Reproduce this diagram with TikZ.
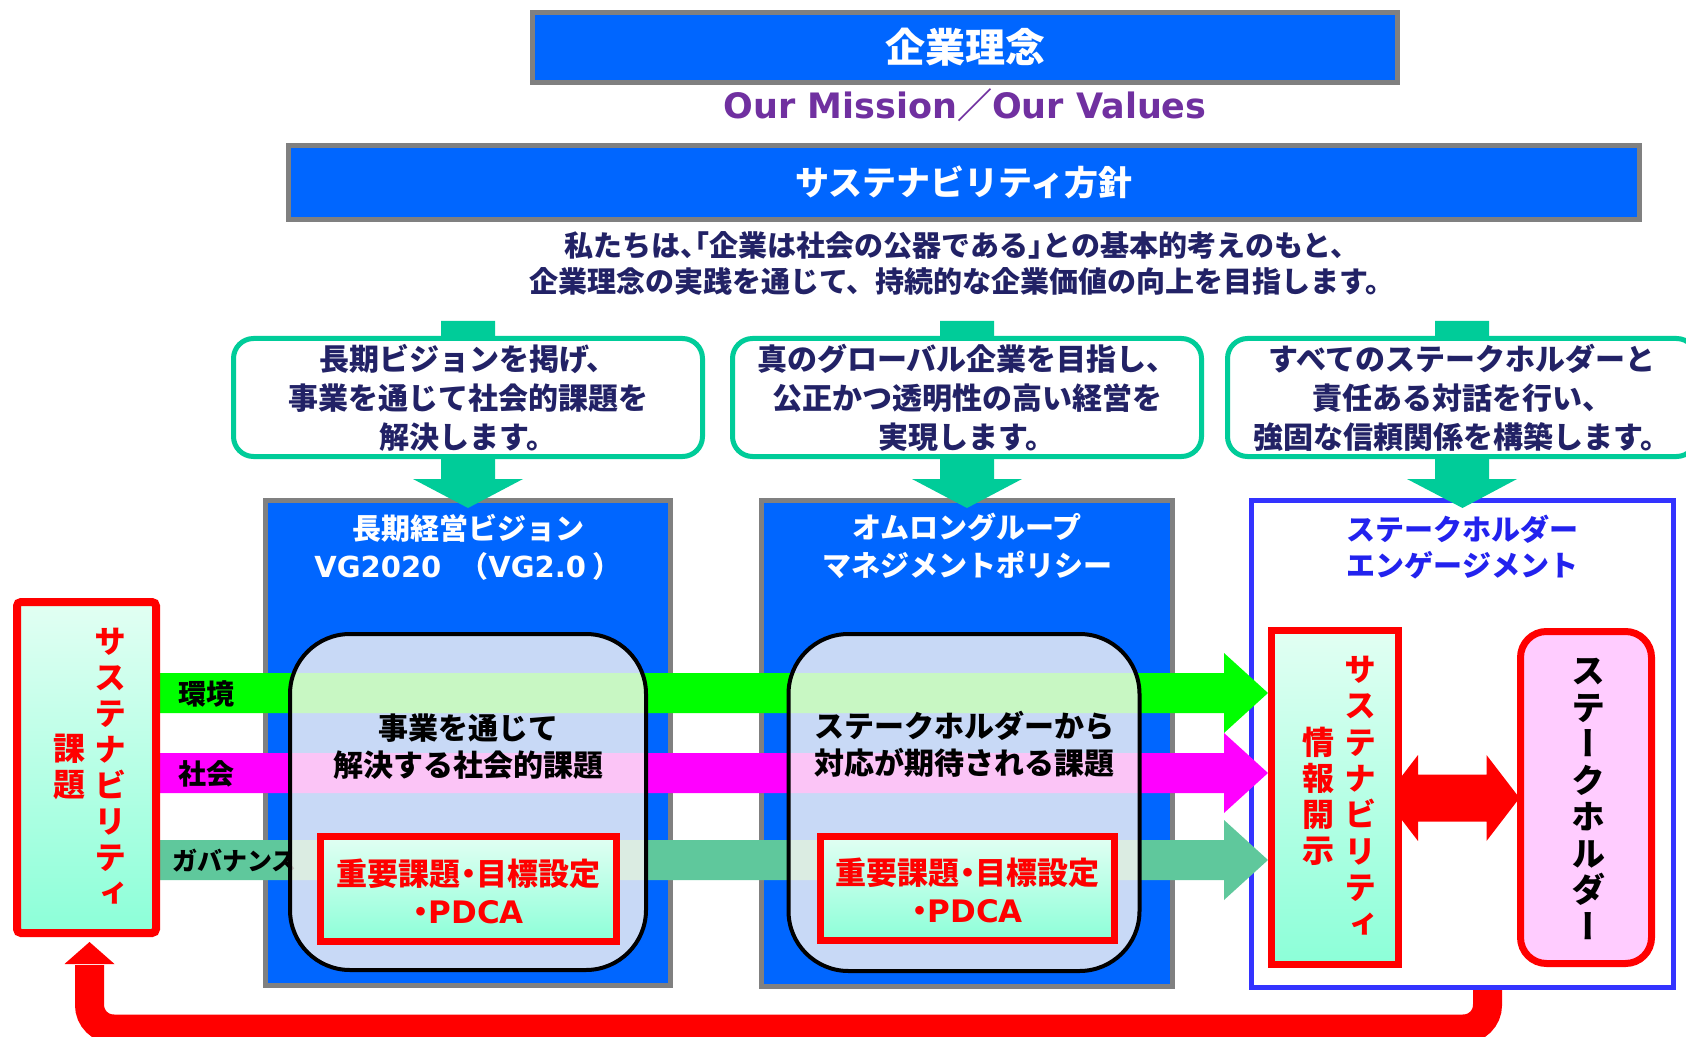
\documentclass[tikz,border=0pt]{standalone}
\usepackage{fontspec}
\usepackage{graphicx}
\setmainfont{Noto Sans CJK JP}
\newfontfamily\lat{DejaVu Sans}
\usetikzlibrary{calc}
\pgfdeclarelayer{bg}
\pgfdeclarelayer{mid}
\pgfsetlayers{bg,mid,main}

\definecolor{barblue}{HTML}{0066FF}
\definecolor{bargrey}{HTML}{808080}
\definecolor{tealg}{HTML}{00CC99}
\definecolor{navy}{HTML}{222266}
\definecolor{purp}{HTML}{7030A0}
\definecolor{bgreen}{HTML}{00FF00}
\definecolor{bmag}{HTML}{FF00FF}
\definecolor{bgov}{HTML}{5FC89C}
\definecolor{engblue}{HTML}{3333FF}
\definecolor{engtext}{HTML}{2222EE}
\definecolor{mintA}{HTML}{E2FFF3}
\definecolor{mintB}{HTML}{8CFFD8}
\definecolor{pinkf}{HTML}{FFCCFF}
\definecolor{paneF}{HTML}{FAF6F4}

\newcommand{\fsz}[2]{\fontsize{#1pt}{#2pt}\selectfont}
\newcommand{\hp}[1]{{\addfontfeature{RawFeature=+halt}#1}}
\newcommand{\vt}{\addfontfeature{RawFeature=+vert}}

\tikzset{
  topbar/.style={draw=bargrey, line width=2.5pt, fill=barblue, inner sep=0pt},
  panelbox/.style={draw=bargrey, line width=2.5pt, fill=barblue, inner sep=0pt},
  msgbox/.style={draw=tealg, line width=2.5pt, fill=white, rounded corners=10pt, inner sep=0pt},
  glassbox/.style={draw=black, line width=2pt, fill=paneF, fill opacity=0.8, rounded corners=30pt, inner sep=0pt},
  mintbox/.style={draw=red, line width=3.5pt, top color=mintA, bottom color=mintB, inner sep=0pt},
  txtnode/.style={inner sep=0pt, align=center},
}

\begin{document}
\begin{tikzpicture}[x=0.5pt, y=-0.5pt]
\useasboundingbox (0,0) rectangle (1686,1037);

\begin{pgfonlayer}{bg}
  \fill[white] (0,0) rectangle (1686,1037);
  \node[panelbox, minimum width=202.5pt, minimum height=242.5pt] (P1) at (468,743) {};
  \node[panelbox, minimum width=205.5pt, minimum height=243pt] (P2) at (967,743.5) {};
  \node[draw=engblue, line width=2.5pt, fill=white, inner sep=0pt, minimum width=211pt, minimum height=243.5pt] (E) at (1462.5,744) {};
\end{pgfonlayer}

% top bars
\node[topbar, minimum width=432.5pt, minimum height=35pt] (T) at (965,47.5) {};
\node[txtnode, text=white, font=\bfseries\fsz{20}{24}] (Tt) at (T.center) {企業理念};
\node[txtnode, text=purp, font=\bfseries\fsz{17.5}{20}] (M) at (965,105) {{\lat Our Mission}／{\lat Our Values}};
\node[topbar, minimum width=675.5pt, minimum height=37pt] (PB) at (964,182.5) {};
\node[txtnode, text=white, font=\bfseries\fsz{17}{20}] (PBt) at (PB.center) {サステナビリティ方針};
\node[txtnode, text=navy, font=\bfseries\fsz{14.5}{18}] (PT) at (962,263) {私たちは\hp{、「}企業は社会の公器である\hp{」}との基本的考えのもと、\\企業理念の実践を通じて、持続的な企業価値の向上を目指します。};

% message boxes
\node[msgbox, minimum width=234.5pt, minimum height=59pt] (G1) at (468,397.5) {};
\node[msgbox, minimum width=234.5pt, minimum height=59pt] (G2) at (967,397.5) {};
\node[msgbox, minimum width=234.5pt, minimum height=59pt] (G3) at (1462,397.5) {};
\node[txtnode, text=navy, font=\bfseries\fsz{15}{19.5}] (G1t) at (G1.center) {長期ビジョンを掲げ、\\事業を通じて社会的課題を\\解決します。};
\node[txtnode, text=navy, font=\bfseries\fsz{15}{19.5}] (G2t) at (G2.center) {真のグローバル企業を目指し、\\公正かつ透明性の高い経営を\\実現します。};
\node[txtnode, text=navy, font=\bfseries\fsz{15}{19.5}] (G3t) at (G3.center) {すべてのステークホルダーと\\責任ある対話を行い、\\強固な信頼関係を構築します。};

% panel titles
\node[txtnode, text=white, font=\bfseries\fsz{14.5}{19}] (P1t) at ($(P1.north)+(0,49)$) {長期経営ビジョン\\{\lat VG2020}\hspace{9pt}（{\lat VG2.0} ）};
\node[txtnode, text=white, font=\bfseries\fsz{14.5}{19}] (P2t) at ($(P2.north)+(0,48)$) {オムロングループ\\マネジメントポリシー};
\node[txtnode, text=engtext, font=\bfseries\fsz{14.5}{18}] (Et) at ($(E.north)+(0,49.5)$) {ステークホルダー\\エンゲージメント};

% side boxes
\node[mintbox, line width=4pt, rounded corners=2pt, minimum width=69.5pt, minimum height=165.5pt] (L) at (86.5,767.5) {};
\node[txtnode, text=red, font=\bfseries\fsz{16}{18}\vt] (L1) at ($(L.center)+(23.5,-1)$) {サ\\ス\\テ\\ナ\\ビ\\リ\\テ\\ィ};
\node[txtnode, text=red, font=\bfseries\fsz{16}{18}] (L2) at ($(L.center)+(-16.5,-1)$) {課\\題};

% band labels
\coordinate (s1) at (L.east |- 0,693);
\coordinate (s2) at (L.east |- 0,773);
\coordinate (s3) at (L.east |- 0,860);
\node[txtnode, anchor=west, font=\bfseries\fsz{14}{16}] (B1) at ($(s1)+(18,1)$) {環境};
\node[txtnode, anchor=west, font=\bfseries\fsz{14}{16}] (B2) at ($(s2)+(18,1)$) {社会};
\node[txtnode, anchor=west, font=\bfseries\fsz{12.5}{15}] (B3) at ($(s3)+(12,1)$) {ガバナンス};

% glass boxes
\node[glassbox, minimum width=178pt, minimum height=168pt] (R1) at (468,802) {};
\node[glassbox, minimum width=175.5pt, minimum height=168.5pt] (R2) at (964,802.5) {};
\node[txtnode, font=\bfseries\fsz{15}{18.5}] (R1t) at (468,746.5) {事業を通じて\\解決する社会的課題};
\node[txtnode, font=\bfseries\fsz{15}{18.5}] (R2t) at (964,744.5) {ステークホルダーから\\対応が期待される課題};
\node[mintbox, minimum width=148pt, minimum height=52.5pt] (RB1) at (468.5,889) {};
\node[mintbox, minimum width=147pt, minimum height=52pt] (RB2) at (967.5,888.5) {};
\node[txtnode, text=red, font=\bfseries\fsz{15.5}{19}] (RB1t) at ($(RB1.center)+(0,2)$) {重要課題\hp{・}目標設定\\\hp{・}{\lat PDCA}};
\node[txtnode, text=red, font=\bfseries\fsz{15.5}{19}] (RB2t) at ($(RB2.center)+(0,2)$) {重要課題\hp{・}目標設定\\\hp{・}{\lat PDCA}};

% disclosure and stakeholder
\node[mintbox, minimum width=63.5pt, minimum height=167pt] (D) at (1335,797.5) {};
\node[txtnode, text=red, font=\bfseries\fsz{16}{18.2}\vt] (D1) at (1360,796) {サ\\ス\\テ\\ナ\\ビ\\リ\\テ\\ィ};
\node[txtnode, text=red, font=\bfseries\fsz{16}{18}] (D2) at (1318,796.5) {情\\報\\開\\示};
\node[draw=red, line width=3.5pt, fill=pinkf, rounded corners=13pt, inner sep=0pt, minimum width=65.5pt, minimum height=166pt] (S) at (1586,797.5) {};
\node[txtnode, font=\bfseries\fsz{17}{18.25}\vt] (S1) at (1588,799) {ス\\テ\\ー\\ク\\ホ\\ル\\ダ\\ー};

\coordinate (t1) at (D.west |- 0,693);
\coordinate (t2) at (D.west |- 0,773);
\coordinate (t3) at (D.west |- 0,860);

\begin{pgfonlayer}{mid}
  % green down arrows
  \foreach \g/\p in {G1/P1,G2/P2,G3/E}{
    \fill[tealg] ($(\g.north)+(-27,-15)$) -- ($(\g.north)+(27,-15)$) -- ($(\g.south)+(27,20)$) -- ($(\g.south)+(55,20)$) -- ($(\p.north)+(0,10)$) -- ($(\g.south)+(-55,20)$) -- ($(\g.south)+(-27,20)$) -- cycle;
  }
  % bands
  \foreach \i/\c in {1/bgreen,2/bmag,3/bgov}{
    \fill[\c] ($(s\i)+(0,-20)$) -- ($(t\i)+(-44,-20)$) -- ($(t\i)+(-44,-40)$) -- (t\i) -- ($(t\i)+(-44,40)$) -- ($(t\i)+(-44,20)$) -- ($(s\i)+(0,20)$) -- cycle;
  }
  % double arrow
  \coordinate (da) at ($(D.east)+(-17,0.5)$);
  \coordinate (db) at ($(S.west)+(2.5,0.5)$);
  \fill[red] (da) -- ($(da)+(33,-43)$) -- ($(da)+(33,-23.5)$) -- ($(db)+(-33,-23.5)$) -- ($(db)+(-33,-43)$) -- (db) -- ($(db)+(-33,43)$) -- ($(db)+(-33,23.5)$) -- ($(da)+(33,23.5)$) -- ($(da)+(33,43)$) -- cycle;
  % feedback arrow
  \draw[red, line width=14.5pt, rounded corners=12pt] ($(E.south)+(25,0)$) |- ($(L.south)+(3,92)$) -- ($(L.south)+(3,28)$);
  \fill[red] ($(L.south)+(-22,27)$) -- ($(L.south)+(28,27)$) -- ($(L.south)+(3,5)$) -- cycle;
\end{pgfonlayer}
\end{tikzpicture}
\end{document}
